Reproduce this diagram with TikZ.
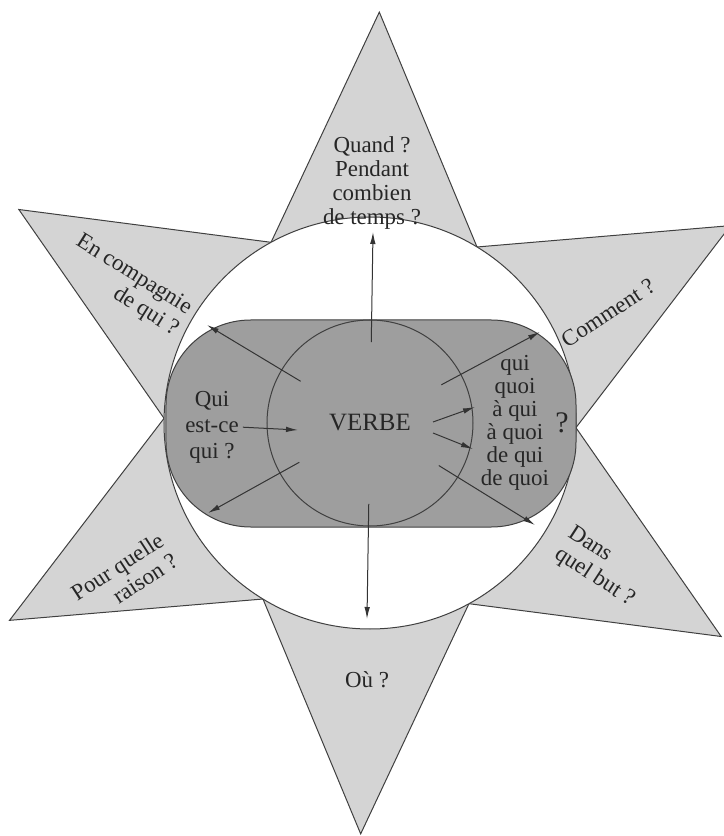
\documentclass[tikz,border=0pt]{standalone}
\usepackage{fontspec}
\setmainfont{Liberation Serif}
\usetikzlibrary{arrows.meta}

\begin{document}
\begin{tikzpicture}[
    x=1bp, y=1bp,
    outline/.style={draw=black!75, line width=1bp},
    txt/.style={font=\fontsize{23}{25}\selectfont, text=black!85, inner sep=0pt, align=center},
    line/.style={draw=black!80, line width=1bp, -{Latex[length=12bp,width=5.5bp]}}
]
    \useasboundingbox (-370,-413) rectangle (354,423);

    % Star, white disc and grey band
    \path[outline, fill=black!17, rotate=-1.3] (90:411) \foreach \a in {60,0,...,-240} { -- (\a:206) -- ({\a-30}:411) } -- cycle;
    \path[outline, fill=white] (0,0) circle (206);
    \path[outline, fill=black!38, rounded corners=85] (-204,-104) rectangle (206,103);
    \path[outline] (0,0) circle (103);

    % Centre
    \node[txt, font=\fontsize{25}{27}\selectfont, circle, minimum size=162] (verbe) at (0,0) {VERBE};
    \node[txt, font=\fontsize{23}{26}\selectfont] (qui) at (-158,-4) {Qui\\est-ce\\qui ?};
    \node[txt, font=\fontsize{23}{23}\selectfont] (objets) at (145,0) {qui\\quoi\\à qui\\à quoi\\de qui\\de quoi};
    \node[txt, font=\fontsize{30}{30}\selectfont] (quest) at (192,0) {?};

    % Branches of the star
    \node[txt, font=\fontsize{23}{24}\selectfont] (quand) at (2,240) {Quand ?\\Pendant\\combien\\de temps ?};
    \node[txt, align=right, rotate=-32] (compagnie) at (-243,137) {En compagnie\\de qui ?};
    \node[txt, rotate=33] (comment) at (238,110) {Comment ?};
    \node[txt, align=right, rotate=33] (raison) at (-246,-154) {Pour quelle\\raison ?};
    \node[txt, align=left, rotate=-33] (but) at (231,-144) {Dans\\quel but ?};
    \node[txt] (ou) at (-3,-257) {Où ?};

    % Arrow ends
    \coordinate (nUp) at (3,191);
    \coordinate (nDown) at (-3,-196);
    \coordinate (nUL) at (-163,98);
    \coordinate (nUR) at (170,91);
    \coordinate (nLL) at (-162,-90);
    \coordinate (nLR) at (165,-102);
    \coordinate (nQui) at (-72,-7);
    \coordinate (vA) at (63,1);
    \coordinate (vB) at (63,-10);
    \coordinate (nA) at (105,16);
    \coordinate (nB) at (103,-26);

    % Arrows
    \path [line] (verbe) -- (nUp);
    \path [line] (verbe) -- (nDown);
    \path [line] (verbe) -- (nUL);
    \path [line] (verbe) -- (nUR);
    \path [line] (verbe) -- (nLL);
    \path [line] (verbe) -- (nLR);
    \path [line, shorten <=4bp] (qui.east) -- (nQui);
    \path [line] (vA) -- (nA);
    \path [line] (vB) -- (nB);
\end{tikzpicture}
\end{document}
